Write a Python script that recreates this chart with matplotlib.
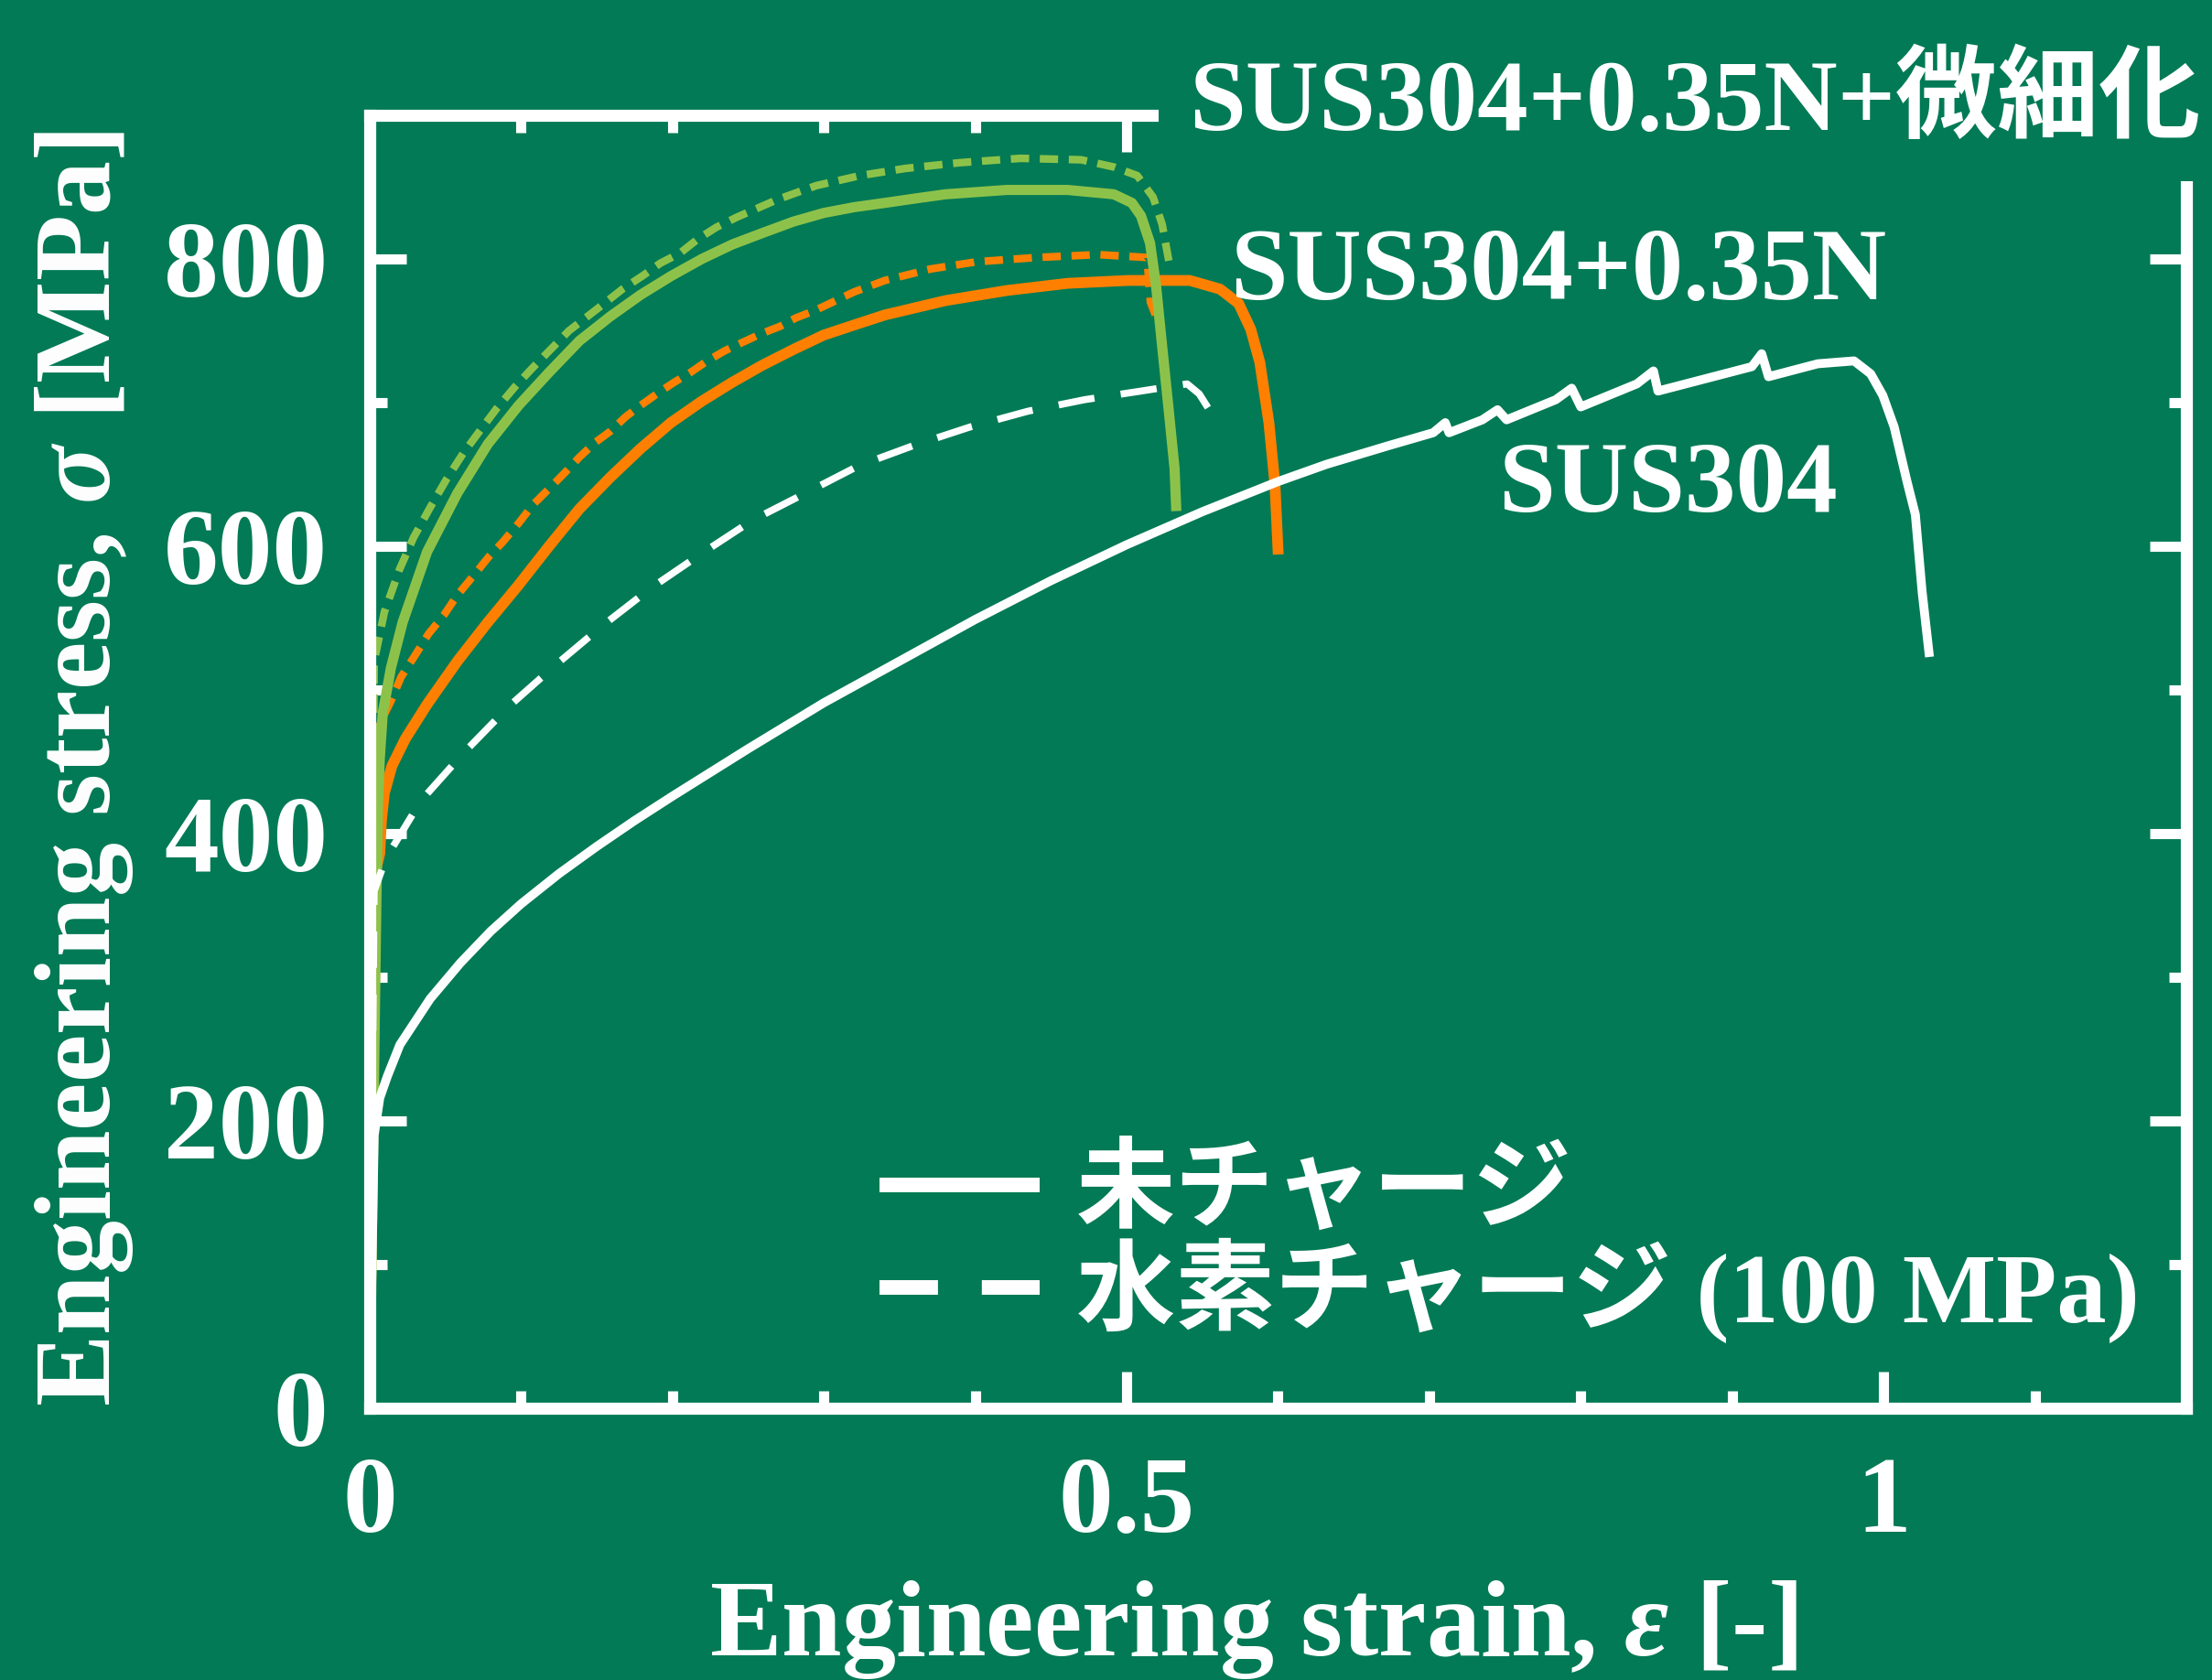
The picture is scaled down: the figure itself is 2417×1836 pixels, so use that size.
import matplotlib
matplotlib.use("Agg")
import matplotlib.pyplot as plt
from matplotlib.lines import Line2D
from matplotlib.ticker import MultipleLocator, FuncFormatter

# colours
bg = '#027A55'
orange = '#FF8000'
lgreen = '#8DC24A'

# SUS304, uncharged (solid white)
eps_304 = [0, 0.003, 0.0067, 0.0117, 0.02, 0.04, 0.06, 0.08, 0.10, 0.125, 0.15, 0.175,
           0.20, 0.25, 0.30, 0.35, 0.40, 0.45, 0.50, 0.55, 0.60, 0.632, 0.673, 0.7025, 0.7105,
           0.713, 0.735, 0.745, 0.751, 0.7835, 0.794, 0.80, 0.837, 0.848, 0.851, 0.913, 0.9195,
           0.924, 0.9565, 0.9805, 0.9915, 0.9995, 1.007, 1.0155, 1.021, 1.0255, 1.03]
sig_304 = [0, 190, 216, 231, 253, 285, 310, 332, 351, 372, 391, 409,
           426, 459, 491, 520, 549, 576, 601, 624, 645, 657, 670, 679, 686,
           679, 688, 695, 688, 702, 710, 697, 713, 722, 708, 725, 734,
           718, 727, 729, 720, 705, 683, 645, 622, 568, 526]

# SUS304, hydrogen charged (dashed white)
eps_304_h = [0, 0.003, 0.0109, 0.034, 0.062, 0.0925, 0.1225, 0.153, 0.186, 0.218, 0.2527, 0.288,
             0.323, 0.359, 0.3966, 0.4349, 0.4722, 0.5095, 0.54, 0.548, 0.554]
sig_304_h = [0, 360, 383, 423, 456, 489, 517, 544, 571, 594, 618, 637,
             656, 670, 683, 694, 702, 708, 713, 706, 696]

# SUS304+0.35N, uncharged (solid orange)
eps_n = [0, 0.003, 0.0067, 0.0078, 0.0097, 0.0147, 0.0236, 0.038, 0.058, 0.078, 0.0984, 0.1185,
         0.1386, 0.159, 0.179, 0.199, 0.2195, 0.2394, 0.2594, 0.28, 0.30, 0.32, 0.3404, 0.3805,
         0.4208, 0.461, 0.501, 0.5417, 0.5617, 0.574, 0.582, 0.588, 0.594, 0.598, 0.600]
sig_n = [0, 370, 386, 409, 428, 447, 466, 490, 520, 547, 573, 600,
         626, 648, 668, 686, 701, 714, 726, 737, 747, 754, 761, 771,
         778, 783, 785, 785, 779, 769, 751, 728, 686, 643, 598]

# SUS304+0.35N, hydrogen charged (dashed orange)
eps_n_h = [0, 0.002, 0.006, 0.014, 0.0208, 0.030, 0.0389, 0.049, 0.058, 0.069, 0.079, 0.088,
           0.0984, 0.108, 0.1185, 0.1288, 0.1386, 0.1487, 0.159, 0.169, 0.179, 0.191, 0.201, 0.212,
           0.223, 0.2345, 0.2465, 0.2588, 0.271, 0.2817, 0.294, 0.32, 0.3404, 0.3706, 0.4008,
           0.4408, 0.481, 0.5135, 0.5157, 0.519]
sig_n_h = [0, 440, 475, 492, 509, 524, 539, 552, 566, 580, 593, 603,
           616, 629, 640, 651, 662, 672, 680, 690, 698, 707, 714, 721,
           729, 736, 742, 748, 753, 759, 764, 777, 785, 793, 798,
           801, 803, 801, 770, 761]

# SUS304+0.35N+grain refinement, uncharged (solid light green)
eps_f = [0, 0.0045, 0.0055, 0.0067, 0.0087, 0.014, 0.0218, 0.0379, 0.058, 0.078, 0.0984, 0.1185,
         0.1386, 0.159, 0.179, 0.199, 0.2195, 0.2394, 0.2594, 0.28, 0.30, 0.32, 0.3404, 0.36,
         0.3805, 0.4208, 0.461, 0.4915, 0.5035, 0.5095, 0.5155, 0.5195, 0.5235, 0.5277, 0.5317,
         0.5327]
sig_f = [0, 356, 420, 452, 484, 515, 547, 596, 637, 671, 698, 721,
         743, 760, 775, 788, 800, 810, 818, 826, 832, 836, 839, 842,
         845, 848, 848, 845, 839, 830, 811, 781, 739, 696, 654,
         628]

# SUS304+0.35N+grain refinement, hydrogen charged (dashed light green)
eps_f_h = [0, 0.003, 0.0097, 0.0198, 0.029, 0.040, 0.051, 0.062, 0.0733, 0.084, 0.096, 0.1075,
           0.1196, 0.1317, 0.1427, 0.155, 0.167, 0.180, 0.192, 0.205, 0.217, 0.229, 0.2425,
           0.2556, 0.2686, 0.2817, 0.295, 0.324, 0.354, 0.39, 0.43, 0.47, 0.4915, 0.507, 0.5175,
           0.5235, 0.528]
sig_f_h = [0, 520, 554, 584, 606, 627, 647, 665, 681, 696, 711, 724,
           737, 750, 759, 769, 779, 788, 797, 804, 814, 822, 829,
           835, 841, 846, 851, 858, 863, 867, 870, 869, 864, 858, 843,
           824, 798]

plt.rcParams['font.family'] = ['Liberation Serif', 'Noto Sans CJK JP']
plt.rcParams['font.weight'] = 'bold'
plt.rcParams['axes.labelweight'] = 'bold'
plt.rcParams['mathtext.fontset'] = 'custom'
plt.rcParams['mathtext.it'] = 'Liberation Serif:italic:bold'
plt.rcParams['mathtext.rm'] = 'Liberation Serif'
plt.rcParams['text.color'] = 'white'
plt.rcParams['axes.labelcolor'] = 'white'
plt.rcParams['axes.edgecolor'] = 'white'
plt.rcParams['xtick.color'] = 'white'
plt.rcParams['ytick.color'] = 'white'

fig = plt.figure(figsize=(24.17, 18.36), dpi=100, facecolor=bg)
ax = fig.add_axes([0.1671, 0.1618, 0.8213, 0.7696])
ax.set_facecolor(bg)

# curves
ax.plot(eps_n_h, sig_n_h, color=orange, lw=6, dashes=(2.4, 1.4))
ax.plot(eps_n, sig_n, color=orange, lw=8.5)
ax.plot(eps_f_h, sig_f_h, color=lgreen, lw=6, dashes=(2.4, 1.4))
ax.plot(eps_f, sig_f, color=lgreen, lw=8)
ax.plot(eps_304_h, sig_304_h, color='white', lw=5.5, dashes=(5.2, 3.8))
ax.plot(eps_304, sig_304, color='white', lw=7)

ax.set_xlim(0, 1.2)
ax.set_ylim(0, 900)

for sp in ax.spines.values():
    sp.set_linewidth(9.5)

ax.xaxis.set_major_locator(MultipleLocator(0.5))
ax.xaxis.set_minor_locator(MultipleLocator(0.1))
ax.yaxis.set_major_locator(MultipleLocator(200))
ax.yaxis.set_minor_locator(MultipleLocator(100))
ax.xaxis.set_major_formatter(FuncFormatter(lambda v, p: f'{v:g}'))
ax.yaxis.set_major_formatter(FuncFormatter(lambda v, p: f'{v:g}'))
ax.tick_params(which='both', direction='in', top=True, right=True, width=8)
ax.tick_params(which='major', length=29, labelsize=86)
ax.tick_params(which='minor', length=14)
ax.tick_params(axis='x', which='major', pad=38)
ax.tick_params(axis='y', which='major', pad=33)

ax.set_xlabel(r'Engineering strain, $\varepsilon$ $\mathrm{[}$-$\mathrm{]}$', fontsize=85)
ax.set_ylabel(r'Engineering stress, $\sigma$ $\mathrm{[MPa]}$', fontsize=85)
ax.xaxis.set_label_coords(0.4864, -0.132)
ax.yaxis.set_label_coords(-0.1287, 0.4947)

# curve labels
ax.text(0.5683, 772, 'SUS304+0.35N', fontsize=81, ha='left', va='baseline')
ax.text(0.7455, 624, 'SUS304', fontsize=80, ha='left', va='baseline')
fig.text(0.995, 0.9227, 'SUS304+0.35N+微細化', fontsize=80, ha='right', va='baseline',
         zorder=5, bbox=dict(boxstyle='square,pad=0.3', facecolor=bg, edgecolor='none'))

# legend
handles = [Line2D([], [], color='white', lw=11.5, solid_capstyle='butt'),
           Line2D([], [], color='white', lw=11.5, dashes=(4, 3))]
ax.legend(handles, ['未チャージ', '水素チャージ (100 MPa)'], loc='upper left',
          bbox_to_anchor=(0.2805, 0.2024), frameon=False, fontsize=78,
          handlelength=1.62, handletextpad=0.37, labelspacing=-0.03,
          borderpad=0, borderaxespad=0, labelcolor='white')

fig.savefig('out.png', dpi=100, facecolor=bg)
